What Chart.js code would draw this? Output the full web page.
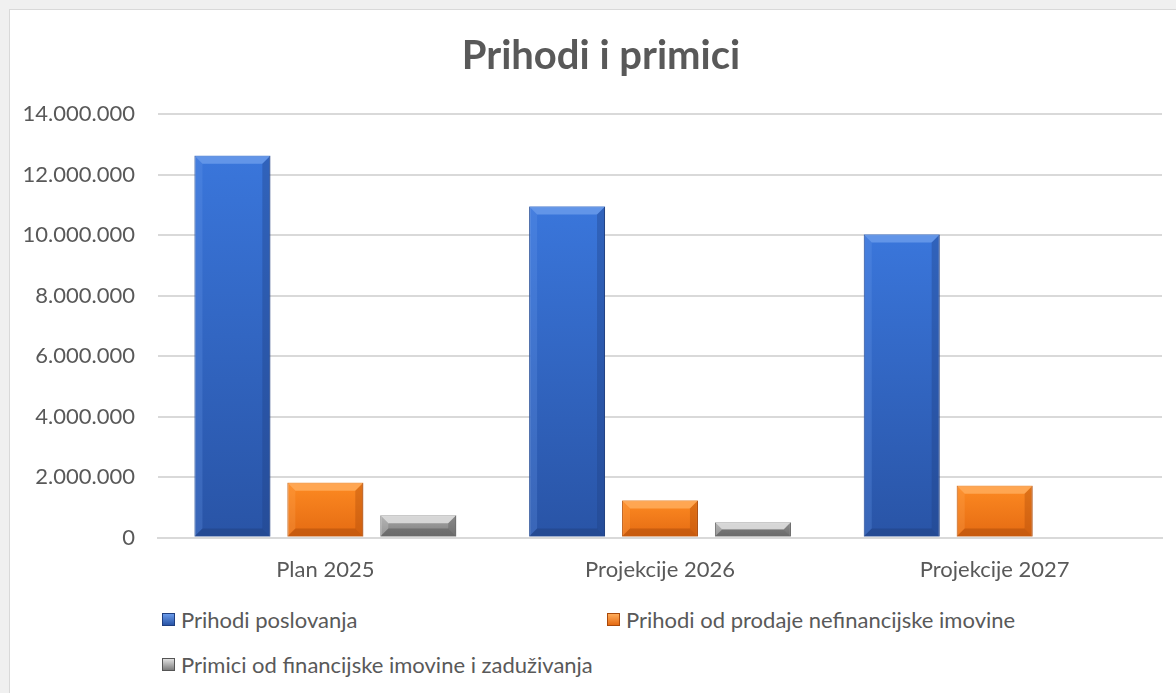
<!DOCTYPE html>
<html>
<head>
<meta charset="utf-8">
<script src="https://cdn.jsdelivr.net/npm/chart.js@4.4.1/dist/chart.umd.min.js"></script>
<style>
  html, body { margin: 0; padding: 0; background: #f0f0f0; width: 1176px; height: 693px; overflow: hidden; }
  #panel { position: absolute; left: 9px; top: 9px; width: 1200px; height: 700px; background: #fff; border-left: 1px solid #d9d9d9; border-top: 1px solid #d9d9d9; }
  #wrap { position: absolute; left: 0; top: 0; width: 1182px; height: 584px; }
  #legend { position: absolute; left: 152px; top: 597px; width: 900px; display: grid; grid-template-columns: 445px 445px; row-gap: 20px; font-family: Lato, "Open Sans", sans-serif; font-size: 22px; color: #595959; }
  .item { display: flex; align-items: center; height: 25px; }
  .box { width: 13px; height: 13px; margin-right: 6px; box-sizing: border-box; }
</style>
</head>
<body>
<div id="panel">
  <div id="wrap"><canvas id="chart"></canvas></div>
  <div id="legend"></div>
</div>
<script>
  // podaci
  const categories = ['Plan 2025', 'Projekcije 2026', 'Projekcije 2027'];
  const seriesNames = ['Prihodi poslovanja', 'Prihodi od prodaje nefinancijske imovine', 'Primici od financijske imovine i zaduživanja'];
  const prihodiPoslovanja = [12620000, 10940000, 10020000];
  const prihodiProdaje = [1810000, 1230000, 1710000];
  const primiciFinancijske = [740000, 510000, 0];
  const yTicks = [0, 2000000, 4000000, 6000000, 8000000, 10000000, 12000000, 14000000];

  // boje: [vrh, dno, svijetli rub, tamni rub]
  const palette = [
    ['#3a76db', '#2954a6', '#6a9bea', '#1f3f80'],
    ['#fd8a22', '#e46a12', '#ffac5a', '#a9490a'],
    ['#a6a6a6', '#7c7c7c', '#e0e0e0', '#555555']
  ];
  const font = 'Lato, "Open Sans", sans-serif';

  function fmt(v) {
    return String(v).replace(/\B(?=(\d{3})+(?!\d))/g, '.');
  }

  // gradijent po stupcu, od vrha do osnovice
  function gradientFor(idx) {
    return (ctx) => {
      const chart = ctx.chart;
      if (!chart.chartArea || ctx.type !== 'data') return palette[idx][0];
      const y = chart.scales.y;
      const top = y.getPixelForValue(ctx.raw);
      const base = y.getPixelForValue(0);
      if (base - top < 1) return palette[idx][0];
      const g = chart.ctx.createLinearGradient(0, top, 0, base);
      g.addColorStop(0, palette[idx][0]);
      g.addColorStop(1, palette[idx][1]);
      return g;
    };
  }

  // kosi rubovi stupaca
  const bevelPlugin = {
    id: 'bevel',
    afterDatasetsDraw(chart) {
      const c = chart.ctx;
      chart.data.datasets.forEach((ds, i) => {
        const meta = chart.getDatasetMeta(i);
        meta.data.forEach(bar => {
          const h = bar.base - bar.y;
          if (h < 2) return;
          const l = bar.x - bar.width / 2, r = bar.x + bar.width / 2;
          const t = bar.y, b = bar.base;
          const s = Math.min(8, h / 2);
          c.save();
          c.globalAlpha = 0.85;
          c.fillStyle = palette[i][2];
          c.beginPath();
          c.moveTo(l, t); c.lineTo(r, t); c.lineTo(r - s, t + s); c.lineTo(l + s, t + s); c.closePath();
          c.fill();
          c.globalAlpha = 0.25;
          c.beginPath();
          c.moveTo(l, t); c.lineTo(l + s, t + s); c.lineTo(l + s, b - s); c.lineTo(l, b); c.closePath();
          c.fill();
          c.globalAlpha = 0.35;
          c.fillStyle = palette[i][3];
          c.beginPath();
          c.moveTo(r, t); c.lineTo(r, b); c.lineTo(r - s, b - s); c.lineTo(r - s, t + s); c.closePath();
          c.fill();
          c.globalAlpha = 0.5;
          c.beginPath();
          c.moveTo(l, b); c.lineTo(r, b); c.lineTo(r - s, b - s); c.lineTo(l + s, b - s); c.closePath();
          c.fill();
          c.restore();
        });
      });
    }
  };

  const values = [prihodiPoslovanja, prihodiProdaje, primiciFinancijske];
  const datasets = values.map((data, i) => ({
    label: seriesNames[i],
    data: data,
    backgroundColor: gradientFor(i),
    borderColor: palette[i][3],
    borderWidth: 1,
    categoryPercentage: 0.833,
    barPercentage: 0.817
  }));

  const chart = new Chart(document.getElementById('chart'), {
    type: 'bar',
    data: { labels: categories, datasets: datasets },
    options: {
      responsive: true,
      maintainAspectRatio: false,
      animation: false,
      layout: { padding: { left: 10, right: 10, top: 0, bottom: 0 } },
      plugins: {
        legend: { display: false },
        tooltip: { enabled: false },
        title: {
          display: true,
          text: 'Prihodi i primici',
          color: '#595959',
          font: { family: font, size: 40, weight: 'bold' },
          padding: { top: 22, bottom: 34 }
        }
      },
      scales: {
        x: {
          grid: { display: false },
          border: { color: '#d9d9d9', width: 2 },
          ticks: { color: '#595959', font: { family: font, size: 22 }, padding: 11 }
        },
        y: {
          min: 0,
          max: 14000000,
          afterBuildTicks: (axis) => { axis.ticks = yTicks.map(v => ({ value: v })); },
          afterFit: (axis) => { axis.width = 138; },
          grid: { color: '#d9d9d9', lineWidth: 2, drawTicks: false },
          border: { display: false },
          ticks: { color: '#595959', font: { family: font, size: 22 }, padding: 23, callback: (v) => fmt(v) }
        },
        // prazna desna os, samo razmak
        yR: {
          position: 'right',
          min: 0,
          max: 1,
          afterFit: (axis) => { axis.width = 20; },
          grid: { display: false },
          border: { display: false },
          ticks: { display: false }
        }
      }
    },
    plugins: [bevelPlugin]
  });

  // legenda
  const legend = document.getElementById('legend');
  seriesNames.forEach((name, i) => {
    const item = document.createElement('div');
    item.className = 'item';
    const box = document.createElement('span');
    box.className = 'box';
    box.style.background = 'linear-gradient(' + palette[i][2] + ', ' + palette[i][1] + ')';
    box.style.border = '1px solid ' + palette[i][3];
    const txt = document.createElement('span');
    txt.textContent = name;
    item.appendChild(box);
    item.appendChild(txt);
    legend.appendChild(item);
  });
</script>
</body>
</html>
